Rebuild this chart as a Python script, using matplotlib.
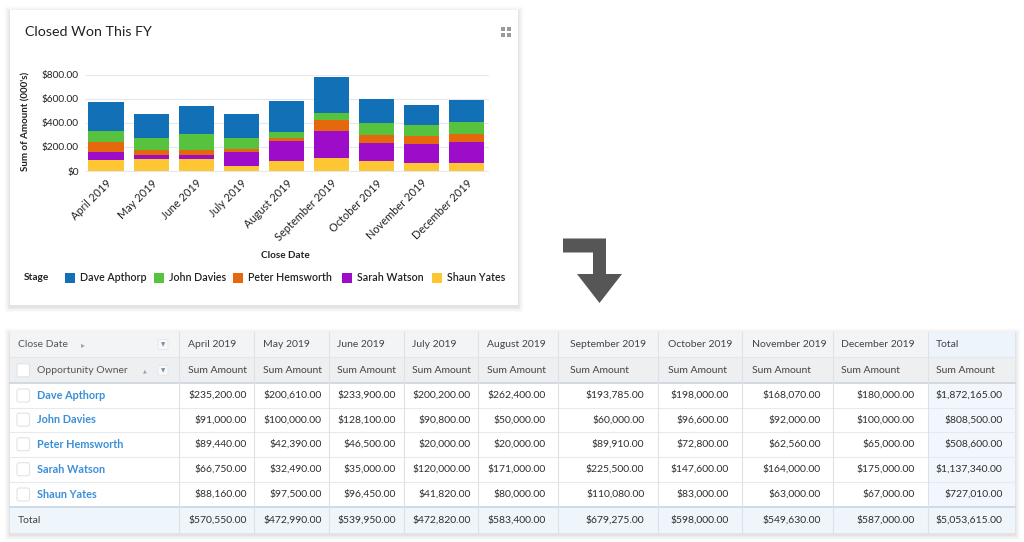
import numpy as np
import matplotlib
matplotlib.use("Agg")
import matplotlib.pyplot as plt
from matplotlib.patches import Rectangle, FancyBboxPatch, Polygon

plt.rcParams['font.family'] = ['Lato', 'DejaVu Sans']

# ---- data ----
months = ['April 2019', 'May 2019', 'June 2019', 'July 2019', 'August 2019',
          'September 2019', 'October 2019', 'November 2019', 'December 2019']
owners = ['Dave Apthorp', 'John Davies', 'Peter Hemsworth', 'Sarah Watson', 'Shaun Yates']

dave = [235200, 200610, 233900, 200200, 262400, 193785, 198000, 168070, 180000]
john = [91000, 100000, 128100, 90800, 50000, 60000, 96600, 92000, 100000]
peter = [89440, 42390, 46500, 20000, 20000, 89910, 72800, 62560, 65000]
sarah = [66750, 32490, 35000, 120000, 171000, 225500, 147600, 164000, 175000]
shaun = [88160, 97500, 96450, 41820, 80000, 110080, 83000, 63000, 67000]

# the chart draws the September blue block taller than the table (000's)
chart_sept_dave = 300

colors = {'Dave Apthorp': '#1170b6', 'John Davies': '#56c23e', 'Peter Hemsworth': '#e5690c',
          'Sarah Watson': '#9c0cc9', 'Shaun Yates': '#fcc733'}

table = np.array([dave, john, peter, sarah, shaun], dtype=float)
col_tot = table.sum(axis=0)
row_tot = table.sum(axis=1)

W, H = 1024, 542
fig = plt.figure(figsize=(W / 100, H / 100), dpi=100)
fig.patch.set_facecolor('white')

bg = fig.add_axes([0, 0, 1, 1], zorder=0)
bg.set_xlim(0, W)
bg.set_ylim(H, 0)
bg.axis('off')


def card(x0, y0, x1, y1):
    # soft drop shadow then white card
    for i, a in zip(range(6, 0, -1), [0.008, 0.012, 0.016, 0.02, 0.025, 0.03]):
        bg.add_patch(Rectangle((x0 - i, y0 - i + 1.5), x1 - x0 + 2 * i, y1 - y0 + 2 * i,
                               facecolor='#000000', alpha=a, lw=0))
    bg.add_patch(Rectangle((x0, y0), x1 - x0, y1 - y0, facecolor='white', lw=0))


# ---- chart card ----
card(10, 10, 518, 305)
bg.text(25, 32, 'Closed Won This FY', fontsize=10.3, va='center', color='#222222')
for dx, dy in [(501, 27), (507, 27), (501, 33), (507, 33)]:
    bg.add_patch(Rectangle((dx, dy), 4, 4, facecolor='#9a9a9a', lw=0))

ax = fig.add_axes([86 / W, (H - 172) / H, 403 / W, 97.5 / H], zorder=2)
ax.set_facecolor('none')
x = np.arange(len(months))
stack = [('Shaun Yates', table[4] / 1000), ('Sarah Watson', table[3] / 1000),
         ('Peter Hemsworth', table[2] / 1000), ('John Davies', table[1] / 1000)]
dave_chart = table[0] / 1000
dave_chart[5] = chart_sept_dave
stack.append(('Dave Apthorp', dave_chart))
bottom = np.zeros(len(months))
for name, vals in stack:
    ax.bar(x, vals, 0.79, bottom=bottom, color=colors[name], lw=0)
    bottom += vals

ax.set_xlim(-0.45, 8.5)
ax.set_ylim(-8, 803)
ax.set_yticks([0, 200, 400, 600, 800])
ax.set_yticklabels(['$0', '$200.00', '$400.00', '$600.00', '$800.00'], fontsize=7.3, color='#222222')
ax.set_xticks(x)
ax.set_xticklabels(months, rotation=45, ha='right', va='top', rotation_mode='anchor',
                   fontsize=7.9, color='#222222')
ax.tick_params(length=0)
ax.tick_params(axis='y', pad=5)
ax.tick_params(axis='x', pad=4)
ax.yaxis.grid(True, color='#e2e8ee', lw=0.8)
ax.set_axisbelow(True)
for s in ax.spines.values():
    s.set_visible(False)

bg.text(26, 121, "Sum of Amount (000's)", rotation=90, fontsize=7, fontweight='bold',
        ha='center', va='center', color='#222222')
bg.text(285, 255, 'Close Date', fontsize=7.2, fontweight='bold', ha='center', va='center',
        color='#222222')

# legend
bg.text(24, 277, 'Stage', fontsize=7.3, fontweight='bold', va='center', color='#222222')
leg_x = [65, 154, 233, 342, 432]
for name, lx in zip(owners, leg_x):
    bg.add_patch(Rectangle((lx, 272.5), 10, 10, facecolor=colors[name], lw=0))
    bg.text(lx + 15, 277.5, name, fontsize=7.7, fontweight='semibold', va='center', color='#222222')

# ---- arrow ----
bg.add_patch(Polygon([(563, 238.5), (606, 238.5), (606, 274), (622, 274), (599.5, 303),
                      (577, 274), (593, 274), (593, 252.5), (563, 252.5)],
                     closed=True, facecolor='#565656', lw=0))

# ---- table ----
cols = [10, 179.3, 254, 329, 403.5, 478.3, 557.7, 657.7, 741.7, 833.3, 927.7, 1015]
rows = [332, 357.3, 383.3, 407.7, 431.7, 456.7, 481.7, 507.3, 533]
head_x = [188, 263, 337.3, 412.3, 486.7, 570, 667.7, 751.7, 841, 935.7]
val_x = [246.7, 321.7, 396, 471, 545.7, 644.3, 729, 821, 914.3, 1002.7]

card(10, 332, 1015, 533)
# backgrounds
bg.add_patch(Rectangle((10, rows[0]), cols[10] - 10, rows[1] - rows[0], facecolor='#f3f4f6', lw=0))
bg.add_patch(Rectangle((cols[10], rows[0]), cols[11] - cols[10], rows[1] - rows[0], facecolor='#edf4fb', lw=0))
bg.add_patch(Rectangle((10, rows[1]), 1005, rows[2] - rows[1], facecolor='#eeeff1', lw=0))
bg.add_patch(Rectangle((cols[10], rows[2]), cols[11] - cols[10], rows[7] - rows[2], facecolor='#f1f7fc', lw=0))
bg.add_patch(Rectangle((10, rows[7]), 1005, rows[8] - rows[7], facecolor='#eef5fb', lw=0))

# grid lines
for r in rows[3:7]:
    bg.plot([10, 1015], [r, r], color='#e6e9ed', lw=0.8)
bg.plot([10, 1015], [rows[1], rows[1]], color='#e3e6ea', lw=0.8)
bg.plot([10, 1015], [rows[2], rows[2]], color='#c9d1da', lw=1.1)
bg.plot([10, 1015], [rows[7], rows[7]], color='#c5d3e0', lw=1.1)
for c in cols[1:-1]:
    bg.plot([c, c], [rows[0], rows[8]], color='#dde2e8', lw=0.8)

fs = 7.5
tc = '#2e2e2e'
# header cells
bg.text(18, 344.5, 'Close Date', fontsize=fs, va='center', color='#555555')
bg.text(81, 344.5, '\u25b8', fontsize=5.5, va='center', color='#9aa4b0')
bg.text(37, 370.3, 'Opportunity Owner', fontsize=fs, va='center', color='#555555')
bg.text(143, 370.5, '\u25b2', fontsize=3.5, va='center', color='#9aa4b0')
for yy in [344.5, 370.3]:
    bg.add_patch(FancyBboxPatch((158, yy - 5), 10, 10, boxstyle='round,pad=0,rounding_size=1.5',
                                facecolor='#f7f8fa', edgecolor='#e3e6ea', lw=0.6))
    bg.text(163, yy + 0.5, '\u25bc', fontsize=4, ha='center', va='center', color='#7d8c9e')
for j, m in enumerate(months + ['Total']):
    bg.text(head_x[j], 344.5, m, fontsize=fs, va='center', color='#444444')
    bg.text(head_x[j], 370.3, 'Sum Amount', fontsize=fs, va='center', color='#444444')

# checkboxes
for yy in [370.3] + [(rows[i] + rows[i + 1]) / 2 for i in range(2, 7)]:
    bg.add_patch(FancyBboxPatch((17, yy - 6.5), 12.5, 13, boxstyle='round,pad=0,rounding_size=2',
                                facecolor='white', edgecolor='#e0e3e7', lw=0.8))

# body
for i, name in enumerate(owners):
    yy = (rows[i + 2] + rows[i + 3]) / 2
    bg.text(37, yy, name, fontsize=7.8, fontweight='bold', va='center', color='#3b8fd8')
    for j in range(len(months)):
        bg.text(val_x[j], yy, f'${table[i, j]:,.2f}', fontsize=fs, ha='right', va='center', color=tc)
    bg.text(val_x[9], yy, f'${row_tot[i]:,.2f}', fontsize=fs, ha='right', va='center', color=tc)

yy = (rows[7] + rows[8]) / 2
bg.text(18, yy, 'Total', fontsize=fs, va='center', color='#444444')
for j in range(len(months)):
    bg.text(val_x[j], yy, f'${col_tot[j]:,.2f}', fontsize=fs, ha='right', va='center', color=tc)
bg.text(val_x[9], yy, f'${col_tot.sum():,.2f}', fontsize=fs, ha='right', va='center', color=tc)

fig.savefig('out.png', dpi=100, facecolor='white')
